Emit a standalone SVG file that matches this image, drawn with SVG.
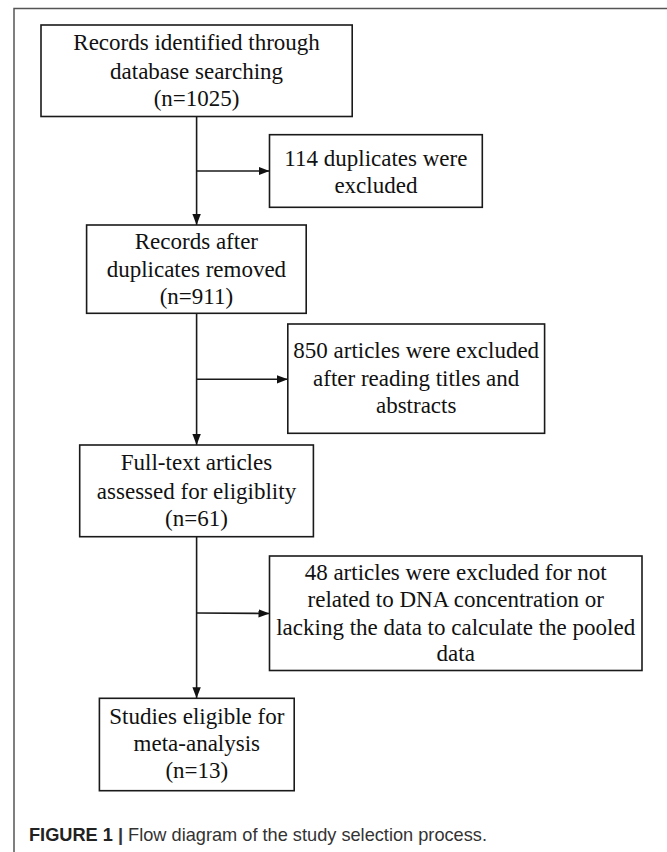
<svg xmlns="http://www.w3.org/2000/svg" width="667" height="852" viewBox="0 0 667 852">
<style>
.box{fill:#fff;stroke:#1a1a1a;stroke-width:1.6}
.t{font-family:"Liberation Serif","Times New Roman",serif;font-size:23px;fill:#111;text-anchor:middle}
.c{stroke:#1a1a1a;stroke-width:1.6;fill:none}
.frame{stroke:#555;stroke-width:1.5;fill:none}
.cap{font-family:"Liberation Sans",Arial,sans-serif;font-size:18.2px;fill:#333}
</style>
<defs>
<marker id="ah" markerUnits="userSpaceOnUse" markerWidth="12" markerHeight="10" refX="11" refY="5" orient="auto">
<path d="M0,0.8 L11,5 L0,9.2 Z" fill="#111"/>
</marker>
</defs>
<rect width="667" height="852" fill="#fff"/>
<path class="frame" d="M14,852 V8.5 H667"/>
<g id="connectors">
<line class="c" x1="196.6" y1="116.5" x2="196.6" y2="225" marker-end="url(#ah)"/>
<line class="c" x1="196.6" y1="171" x2="269.5" y2="171" marker-end="url(#ah)"/>
<line class="c" x1="196.6" y1="313.3" x2="196.6" y2="445" marker-end="url(#ah)"/>
<line class="c" x1="196.6" y1="379.3" x2="287.8" y2="379.3" marker-end="url(#ah)"/>
<line class="c" x1="196.6" y1="536.7" x2="196.6" y2="698.3" marker-end="url(#ah)"/>
<line class="c" x1="196.6" y1="613" x2="269.5" y2="613.5" marker-end="url(#ah)"/>
</g>
<g id="n1">
<rect class="box" x="41" y="25" width="311.2" height="91.5"/>
<text class="t" x="196.6" y="50">Records identified through</text>
<text class="t" x="196.6" y="79">database searching</text>
<text class="t" x="196.6" y="106">(n=1025)</text>
</g>
<g id="n2">
<rect class="box" x="269.5" y="134.7" width="212.8" height="72.6"/>
<text class="t" x="375.9" y="166">114 duplicates were</text>
<text class="t" x="375.9" y="193">excluded</text>
</g>
<g id="n3">
<rect class="box" x="86.6" y="225" width="219.6" height="88.3"/>
<text class="t" x="196.4" y="249">Records after</text>
<text class="t" x="196.4" y="277">duplicates removed</text>
<text class="t" x="196.4" y="304">(n=911)</text>
</g>
<g id="n4">
<rect class="box" x="287.8" y="324" width="256.8" height="109.3"/>
<text class="t" x="416.2" y="357.5">850 articles were excluded</text>
<text class="t" x="416.2" y="385.5">after reading titles and</text>
<text class="t" x="416.2" y="412.5">abstracts</text>
</g>
<g id="n5">
<rect class="box" x="79.7" y="445" width="233.7" height="91.7"/>
<text class="t" x="196.5" y="470">Full-text articles</text>
<text class="t" x="196.5" y="499">assessed for eligiblity</text>
<text class="t" x="196.5" y="525.5">(n=61)</text>
</g>
<g id="n6">
<rect class="box" x="269.5" y="556" width="372.5" height="114.5"/>
<text class="t" x="455.7" y="580">48 articles were excluded for not</text>
<text class="t" x="455.7" y="607">related to DNA concentration or</text>
<text class="t" x="455.7" y="635">lacking the data to calculate the pooled</text>
<text class="t" x="455.7" y="661">data</text>
</g>
<g id="n7">
<rect class="box" x="99.4" y="698.3" width="194.8" height="92.4"/>
<text class="t" x="196.8" y="723.5">Studies eligible for</text>
<text class="t" x="196.8" y="751">meta-analysis</text>
<text class="t" x="196.8" y="777.5">(n=13)</text>
</g>
<text class="cap" x="29" y="841"><tspan font-weight="bold" fill="#222">FIGURE 1</tspan> <tspan font-weight="bold">|</tspan> Flow diagram of the study selection process.</text>
</svg>
